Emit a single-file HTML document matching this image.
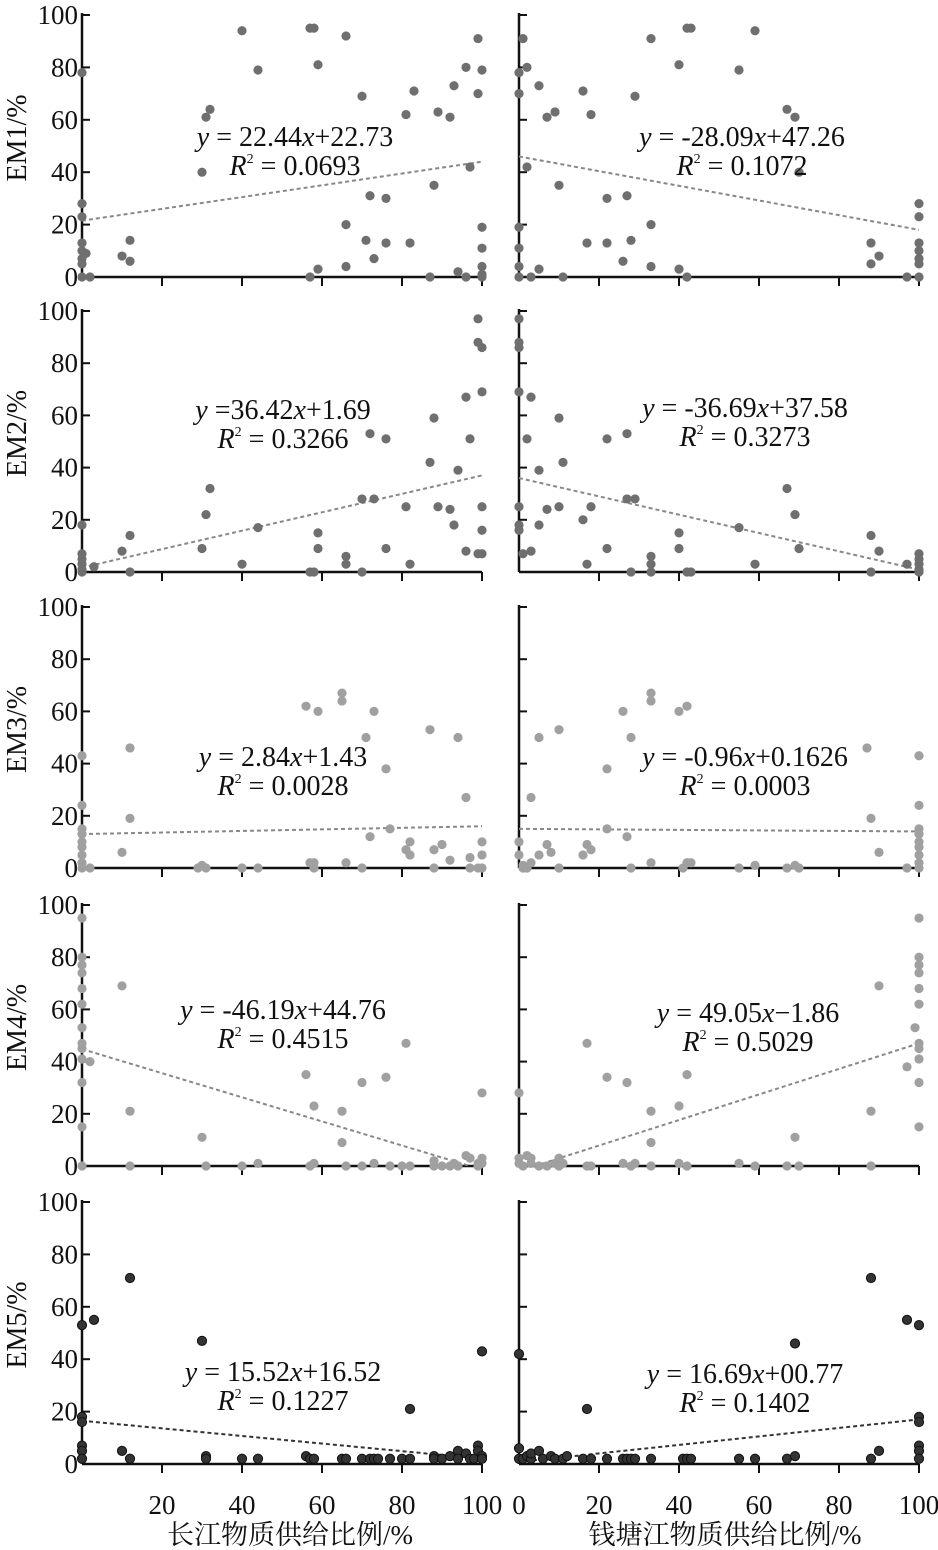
<!DOCTYPE html>
<html><head><meta charset="utf-8"><style>
body{margin:0;background:#fff}
svg{display:block}
text{font-family:"Liberation Serif","Noto Serif CJK SC",serif;fill:#111}
</style></head><body>
<svg id="s" width="938" height="1550" xmlns="http://www.w3.org/2000/svg"></svg>
<script>
const S=document.getElementById('s');let h='';
const tops=[15,311,607,905,1202],zeros=[277,572,868,1166,1464];
const cols=['#6f6f6f','#6f6f6f','#a0a0a0','#a0a0a0','#333'];
const X0=[82,519];
const D=[
[[[0,78],[0,28],[0,23],[0,13],[0,10],[1,9],[0,7],[0,5],[0,0],[2,0],[10,8],[12,14],[12,6],[30,40],[31,61],[32,64],[40,94],[44,79],[57,95],[58,95],[59,81],[59,3],[57,0],[66,92],[66,20],[66,4],[70,69],[71,14],[72,31],[73,7],[76,30],[76,13],[82,13],[81,62],[83,71],[87,0],[88,35],[89,63],[92,61],[93,73],[94,2],[96,80],[97,42],[96,0],[99,91],[99,70],[100,79],[100,19],[100,11],[100,4],[100,1],[100,0]],[0,21.5,100,44],'y = 22.44x+22.73','0.0693',295,137],
[[[0,78],[0,70],[1,91],[2,80],[2,42],[0,19],[0,11],[0,4],[0,0],[3,0],[5,73],[5,3],[7,61],[9,63],[10,35],[11,0],[16,71],[17,13],[18,62],[22,30],[22,13],[26,6],[27,31],[28,14],[29,69],[33,91],[33,20],[33,4],[40,81],[40,3],[42,95],[43,95],[42,0],[59,94],[55,79],[67,64],[69,61],[70,40],[88,13],[88,5],[90,8],[97,0],[100,28],[100,23],[100,13],[100,10],[100,7],[100,5],[100,0]],[0,46,100,18],'y = -28.09x+47.26','0.1072',742,137],
[[[0,18],[0,7],[0,5],[0,3],[0,1],[0,0],[3,2],[10,8],[12,14],[12,0],[30,9],[31,22],[32,32],[40,3],[44,17],[57,0],[58,0],[59,15],[59,9],[66,6],[66,3],[70,0],[70,28],[72,53],[73,28],[76,51],[76,9],[81,25],[82,3],[87,42],[88,59],[89,25],[92,24],[93,18],[94,39],[96,8],[96,67],[97,51],[99,97],[99,88],[100,86],[100,69],[100,25],[100,16],[100,7],[99,7]],[0,1.7,100,37],'y =36.42x+1.69','0.3266',283,410],
[[[0,97],[0,88],[0,86],[0,69],[0,25],[0,18],[0,16],[1,7],[2,51],[3,67],[3,8],[5,39],[5,18],[7,24],[10,59],[11,42],[10,25],[16,20],[17,3],[18,25],[22,51],[22,9],[27,53],[27,28],[29,28],[28,0],[33,6],[33,3],[33,0],[40,15],[40,9],[42,0],[43,0],[55,17],[59,3],[67,32],[69,22],[70,9],[88,14],[88,0],[90,8],[97,3],[100,7],[100,5],[100,3],[100,1],[100,0]],[0,36,100,0.9],'y = -36.69x+37.58','0.3273',745,408],
[[[0,43],[0,24],[0,15],[0,13],[0,10],[0,8],[0,5],[0,2],[0,0],[2,0],[10,6],[12,46],[12,19],[29,0],[30,1],[31,0],[40,0],[44,0],[56,62],[57,2],[58,2],[58,0],[59,60],[65,67],[65,64],[66,2],[70,0],[71,50],[72,12],[73,60],[76,38],[77,15],[81,7],[82,10],[82,5],[87,53],[88,0],[88,7],[90,9],[92,3],[94,50],[96,27],[97,4],[97,0],[99,0],[100,10],[100,5],[100,0]],[0,13,100,16],'y = 2.84x+1.43','0.0028',283,757],
[[[0,10],[0,5],[1,1],[1,0],[2,0],[3,27],[3,2],[5,50],[5,5],[7,9],[8,6],[10,53],[10,0],[16,5],[17,9],[18,7],[22,38],[22,15],[26,60],[27,12],[28,50],[28,0],[33,67],[33,64],[33,2],[40,60],[42,62],[41,0],[42,2],[43,2],[55,0],[59,1],[67,0],[69,1],[70,0],[87,46],[88,19],[90,6],[97,0],[100,43],[100,24],[100,15],[100,13],[100,10],[100,8],[100,5],[100,2],[100,0]],[0,15,100,14],'y = -0.96x+0.1626','0.0003',745,757],
[[[0,95],[0,80],[0,77],[0,74],[0,68],[0,62],[0,53],[0,47],[0,45],[0,41],[0,32],[0,15],[0,0],[2,40],[10,69],[12,21],[12,0],[30,11],[31,0],[40,0],[44,1],[56,35],[58,23],[58,1],[57,0],[65,21],[65,9],[66,0],[70,32],[70,0],[73,1],[76,34],[77,0],[80,0],[81,47],[82,0],[88,2],[88,0],[90,0],[92,0],[93,1],[94,0],[96,4],[97,3],[99,0],[100,28],[100,3],[100,1],[99,1]],[0,44.8,97,0],'y = -46.19x+44.76','0.4515',283,1010],
[[[0,28],[0,3],[0,1],[1,0],[2,4],[3,3],[3,1],[5,0],[7,0],[9,1],[10,3],[10,0],[11,1],[17,47],[17,0],[18,0],[22,34],[26,1],[27,32],[28,0],[29,1],[33,21],[33,9],[33,0],[40,23],[40,1],[42,35],[42,0],[55,1],[59,0],[67,0],[69,11],[70,0],[88,21],[88,0],[90,69],[97,38],[99,53],[100,95],[100,80],[100,77],[100,74],[100,68],[100,62],[100,47],[100,45],[100,41],[100,32],[100,15]],[4,0,100,47],'y = 49.05x−1.86','0.5029',748,1013],
[[[0,53],[0,18],[0,16],[0,7],[0,5],[0,2],[3,55],[10,5],[12,71],[12,2],[30,47],[31,3],[31,2],[40,2],[44,2],[56,3],[57,2],[58,2],[65,2],[66,2],[70,2],[72,2],[73,2],[74,2],[77,2],[80,2],[82,21],[82,2],[88,3],[88,2],[90,2],[92,3],[94,5],[94,2],[96,4],[97,2],[98,2],[99,7],[99,5],[100,43],[100,3],[100,2]],[0,16.5,100,2],'y = 15.52x+16.52','0.1227',283,1372],
[[[0,42],[0,6],[0,2],[1,2],[2,3],[3,2],[3,4],[5,5],[6,2],[8,3],[9,2],[11,2],[12,3],[17,21],[16,2],[18,2],[22,2],[26,2],[27,2],[28,2],[29,2],[33,2],[41,2],[42,2],[43,2],[55,2],[59,2],[67,2],[69,3],[69,46],[88,2],[88,71],[90,5],[97,55],[100,53],[100,18],[100,16],[100,7],[100,5],[100,2]],[0,0.8,100,17],'y = 16.69x+00.77','0.1402',745,1374]
];
for(let p=0;p<5;p++){
 const t=tops[p],z=zeros[p],k=(z-t)/100;
 h+=`<text x="26" y="${(t+z)/2-8}" font-size="28" text-anchor="middle" transform="rotate(-90 26 ${(t+z)/2-8})">EM${p+1}/%</text>`;
 for(let c=0;c<2;c++){
  const x0=X0[c],fx=v=>x0+v*4,fy=v=>z-v*k;
  h+=`<line x1="${x0}" y1="${t-2}" x2="${x0}" y2="${z}" stroke="#111" stroke-width="2.5"/>`;
  h+=`<line x1="${x0}" y1="${z}" x2="${x0+400}" y2="${z}" stroke="#111" stroke-width="2.5"/>`;
  for(let v=0;v<=100;v+=20){
   h+=`<line x1="${x0}" y1="${fy(v)}" x2="${x0+8}" y2="${fy(v)}" stroke="#111" stroke-width="2"/>`;
   if(v>0)h+=`<line x1="${fx(v)}" y1="${z}" x2="${fx(v)}" y2="${z+9}" stroke="#111" stroke-width="2"/>`;
   if(c==0)h+=`<text x="${x0-4}" y="${fy(v)+9}" font-size="27" text-anchor="end">${v}</text>`;
  }
  const d=D[p*2+c];
  const L=d[1];
  h+=`<line x1="${fx(L[0])}" y1="${fy(L[1])}" x2="${fx(L[2])}" y2="${fy(L[3])}" stroke="${p==4?'#333':'#888'}" stroke-width="2" stroke-dasharray="4,3"/>`;
  for(const q of d[0]){
   h+=`<circle cx="${fx(q[0])}" cy="${fy(q[1])}" r="4.6" fill="${cols[p]}"${p==4?' stroke="#111" stroke-width="1"':''}/>`;
  }
  const eq=d[2].replace(/x/,'<tspan font-style="italic">x</tspan>').replace(/^y/,'<tspan font-style="italic">y</tspan>');
  h+=`<text x="${d[4]}" y="${d[5]+9}" font-size="28" text-anchor="middle">${eq}</text>`;
  h+=`<text x="${d[4]}" y="${d[5]+38}" font-size="28" text-anchor="middle"><tspan font-style="italic">R</tspan><tspan font-size="14" dy="-12">2</tspan><tspan dy="12"> = ${d[3]}</tspan></text>`;
 }
}
for(let c=0;c<2;c++){
 for(let v=(c?0:20);v<=100;v+=20)h+=`<text x="${X0[c]+v*4}" y="1514" font-size="27" text-anchor="middle">${v}</text>`;
}
h+=`<text x="290" y="1544" font-size="27" text-anchor="middle">长江物质供给比例/%</text>`;
h+=`<text x="725" y="1544" font-size="27" text-anchor="middle">钱塘江物质供给比例/%</text>`;
S.innerHTML=h;
</script>
</body></html>
